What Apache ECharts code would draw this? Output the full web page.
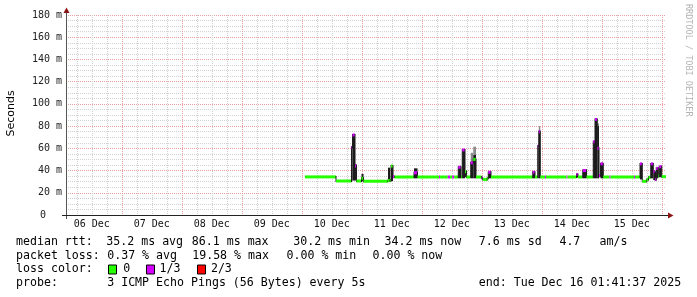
<!DOCTYPE html>
<html><head><meta charset="utf-8">
<script src="https://cdn.jsdelivr.net/npm/echarts@6/dist/echarts.min.js"></script>
<style>html,body{margin:0;padding:0;background:#fff}#c{width:697px;height:297px}</style>
</head><body><div id="c"></div>
<script>
// ---- time axis: hours since 06 Dec 00:00 ----
const windowStartHour = 1 + 41/60 + 37/3600;   // 06 Dec 01:41:37
const windowEndHour = windowStartHour + 240;    // 16 Dec 01:41:37
const dayLabels = ['06 Dec','07 Dec','08 Dec','09 Dec','10 Dec','11 Dec','12 Dec','13 Dec','14 Dec','15 Dec'];
const yTickValues = [0,20,40,60,80,100,120,140,160,180];

// ---- RRD samples (start hour of each step) ----
const sampleHours = [97.3,109.7,115.9,116.3,117.3,117.9,119.9,120.7,130.5,131.3,131.7,132.5,133.1,140.9,142.3,150.9,151.3,154.4,155.3,156.2,157.0,158.6,159.7,160.2,161.3,161.9,163.6,164.6,165.7,168.0,168.4,170.2,170.6,171.7,188.4,189.3,190.4,190.8,191.4,193.3,193.7,201.9,202.3,205.9,206.5,208.4,209.9,212.6,213.3,214.2,214.9,215.5,216.6,219.1,219.5,228.9,229.3,231.3,232.2,234.0,234.7,235.6,236.6,237.3,237.8,238.6,239.0,240.0];
const medianMs = [34.3,30.6,61,72,44,30.6,33,30.4,31,30.8,44,34.5,34.2,38,34.2,34.2,34.2,34.2,34.2,34.2,34.2,43,34.2,58.5,39,34.2,47,50,34.2,33,32,33,38.5,34.2,38.5,34.2,62,75,34.2,34.2,34.2,34.2,34.2,36.5,34.2,40,34.2,66,86,60,35.5,46,34.2,34.2,34.2,34.2,34.2,46,30.3,32,34,46,39,32,42,35,43.5,34.5];
const lossLevel = [0,0,1,1,1,0,0,0,0,0,0,1,0,1,0,1,0,1,0,1,0,1,0,1,0,0,1,0,0,1,0,0,1,0,1,0,1,1,0,1,0,1,0,1,0,1,0,1,1,1,1,1,0,1,0,1,0,1,0,0,0,1,1,1,1,0,1,0];
const pingLoMs = [34.3,30.6,31,31,31,30.6,30.6,30.4,30.5,30.8,30.5,34.5,34.2,33,34.2,34.2,34.2,34.2,34.2,34.2,34.2,33,34.2,33,34,34.2,33,33,34.2,33,32,33,33,34.2,33,34.2,33,33,34.2,34.2,34.2,34.2,34.2,34,34.2,33,34.2,33,33,33,34,33,34.2,34.2,34.2,34.2,34.2,32,30.3,32,34,33,31.5,31,33,34,34,34.5];
const pingHiMs = [34.3,30.6,61,72,46,30.6,37,30.4,42.6,30.8,44.4,34.5,34.2,42,34.2,34.2,34.2,34.2,34.2,34.2,34.2,44,34.2,59,40,34.2,48,54,34.2,33,32,33,39,34.2,39.5,34.2,62,76,34.2,34.2,34.2,34.2,34.2,37,34.2,41,34.2,66,86.4,80,36,47,34.2,34.2,34.2,34.2,34.2,46.5,30.3,32,34,46.5,40,39,42,36,44,34.5];
const pingTopMs = [null,null,null,null,null,null,null,null,null,null,null,null,null,null,null,null,null,null,null,null,null,null,null,null,null,null,56,61.5,null,null,null,null,null,null,null,null,null,80,null,null,null,null,null,null,null,null,null,null,null,82.5,null,null,null,null,null,null,null,null,null,null,null,null,null,null,null,null,null,null];

const lossNames = ['0','1/3','2/3'];
const lossColors = ['#26ff00','#d400ff','#ff0000'];

// derived tick values
const dayBoundaries = [], dayNoons = [], sixHourMarks = [];
dayLabels.forEach((_, i) => { dayNoons.push(i*24+12); });
for (let h = 0; h <= windowEndHour; h += 6) {
  if (h < windowStartHour) continue;
  if (h % 24 === 0) dayBoundaries.push(h); else sixHourMarks.push(h);
}

const rows = sampleHours.map((t, i) => [
  t, i + 1 < sampleHours.length ? sampleHours[i+1] : windowEndHour,
  medianMs[i], lossLevel[i], pingLoMs[i], pingHiMs[i],
  pingTopMs[i] == null ? pingHiMs[i] : pingTopMs[i],
  i > 0 ? medianMs[i-1] : medianMs[i]
]);

function renderItem(params, api) {
  const t0 = api.value(0), t1 = api.value(1), med = api.value(2), ls = api.value(3);
  const lo = api.value(4), hi = api.value(5), top = api.value(6), prev = api.value(7);
  const xa = api.coord([t0, 0])[0], xb = api.coord([t1, 0])[0];
  const w = Math.max(1, xb - xa);
  const c = [];
  if (top > hi) {
    const y1 = api.coord([t0, top])[1], y2 = api.coord([t0, hi])[1];
    c.push({type:'rect', shape:{x:xa, y:y1, width:w, height:y2-y1}, style:{fill:'#8a8a8a'}});
  }
  if (hi > lo) {
    const y1 = api.coord([t0, hi])[1], y2 = api.coord([t0, lo])[1];
    c.push({type:'rect', shape:{x:xa, y:y1, width:w, height:y2-y1}, style:{fill:'#1c1c1c'}});
  }
  if (prev !== med) {
    const y1 = api.coord([t0, prev])[1], y2 = api.coord([t0, med])[1];
    c.push({type:'rect', shape:{x:xa-0.5, y:Math.min(y1,y2)-1, width:1, height:Math.abs(y2-y1)+2}, style:{fill:'#1c1c1c'}});
  }
  const ym = api.coord([t0, med])[1];
  c.push({type:'rect', shape:{x:xa, y:ym-1.5, width:w, height:3}, style:{fill:lossColors[ls]}});
  return {type:'group', children:c};
}

const mono = '"DejaVu Sans Mono", monospace';
const legendFont = '11.6px ' + mono;
function txt(x, y, s, extra) {
  return Object.assign({type:'text', x:x, y:y, style:{text:s, font:legendFont, fill:'#000', align:'left', verticalAlign:'middle', textAlign:'left', textVerticalAlign:'middle'}}, extra||{});
}
const legendItems = [
  txt(16, 241.7, 'median rtt:'), txt(106.3, 241.7, '35.2 ms avg'), txt(191.8, 241.7, '86.1 ms max'),
  txt(293.2, 241.7, '30.2 ms min'), txt(384.5, 241.7, '34.2 ms now'), txt(478.8, 241.7, '7.6 ms sd'),
  txt(559.4, 241.7, '4.7'), txt(599.5, 241.7, 'am/s'),
  txt(16, 255.7, 'packet loss:'), txt(107.2, 255.7, '0.37 % avg'), txt(192.2, 255.7, '19.58 % max'),
  txt(286.5, 255.7, '0.00 % min'), txt(372.5, 255.7, '0.00 % now'),
  txt(16, 269.3, 'loss color:'),
  {type:'rect', shape:{x:108.5, y:265, width:8, height:9}, style:{fill:lossColors[0], stroke:'#000', lineWidth:1}},
  txt(123.2, 269.3, lossNames[0]),
  {type:'rect', shape:{x:146.5, y:265, width:8, height:9}, style:{fill:lossColors[1], stroke:'#000', lineWidth:1}},
  txt(159.5, 269.3, lossNames[1]),
  {type:'rect', shape:{x:197.5, y:265, width:8, height:9}, style:{fill:lossColors[2], stroke:'#000', lineWidth:1}},
  txt(210.9, 269.3, lossNames[2]),
  txt(16, 283.3, 'probe:'), txt(107.2, 283.3, '3 ICMP Echo Pings (56 Bytes) every 5s'),
  txt(478.8, 283.3, 'end: Tue Dec 16 01:41:37 2025')
];

const chart = echarts.init(document.getElementById('c'), null, {renderer:'canvas'});
chart.setOption({
  animation: false,
  backgroundColor: '#fff',
  grid: {left:66, right:31, top:15, bottom:82, containLabel:false},
  xAxis: [{
    type:'value', min:windowStartHour, max:windowEndHour,
    axisLine:{show:true, onZero:false, lineStyle:{color:'#222', width:1}},
    axisTick:{show:false, customValues:dayBoundaries},
    axisLabel:{customValues:dayNoons, margin:4, color:'#111', fontFamily:mono, fontSize:10,
      formatter:(v)=>dayLabels[Math.round((v-12)/24)]},
    splitLine:{show:true, lineStyle:{color:'#e6a0a0', type:[1,1], width:1}}
  },{
    type:'value', min:windowStartHour, max:windowEndHour, position:'bottom',
    axisLine:{show:false}, axisLabel:{show:false},
    axisTick:{show:false, customValues:sixHourMarks},
    splitLine:{show:true, lineStyle:{color:'#d2d2d2', type:[1,1], width:1}}
  }],
  yAxis: {
    type:'value', min:yTickValues[0], max:yTickValues[yTickValues.length-1], interval:20,
    axisLine:{show:true, lineStyle:{color:'#555', width:1}},
    axisTick:{show:false},
    axisLabel:{margin:4, color:'#222', fontFamily:mono, fontSize:10,
      formatter:(v)=> v === 0 ? '{z|0}' : v + ' m',
      rich:{z:{fontFamily:mono, fontSize:10, color:'#222', padding:[0,16,0,0]}}},
    splitLine:{show:true, lineStyle:{color:'#e6a0a0', type:[1,1], width:1}},
    minorTick:{show:false, splitNumber:4},
    minorSplitLine:{show:true, lineStyle:{color:'#d2d2d2', type:[1,1], width:1}}
  },
  series: [{
    type:'custom', renderItem:renderItem, data:rows, xAxisIndex:0, yAxisIndex:0,
    encode:{x:[0,1], y:[2,4,5,6]}, clip:true, z:5
  }],
  graphic: [
    {type:'text', x:11.5, y:113.5, rotation:Math.PI/2, style:{text:'Seconds', font:'11px "DejaVu Sans", sans-serif', fill:'#000', align:'center', verticalAlign:'middle', textAlign:'center', textVerticalAlign:'middle'}},
    {type:'text', x:688, y:4, rotation:-Math.PI/2, style:{text:'RRDTOOL / TOBI OETIKER', font:'8.5px ' + mono, fill:'#b4b4b4', align:'left', verticalAlign:'middle', textAlign:'left', textVerticalAlign:'middle'}},
    {type:'line', shape:{x1:62, y1:215.5, x2:66, y2:215.5}, style:{stroke:'#222', lineWidth:1}},
    {type:'line', shape:{x1:666, y1:215.5, x2:669, y2:215.5}, style:{stroke:'#222', lineWidth:1}},
    {type:'line', shape:{x1:66.5, y1:12, x2:66.5, y2:15}, style:{stroke:'#555', lineWidth:1}},
    {type:'line', shape:{x1:66.5, y1:215, x2:66.5, y2:219}, style:{stroke:'#555', lineWidth:1}},
    {type:'polygon', shape:{points:[[63.5,13],[69.5,13],[66.5,7.5]]}, style:{fill:'#8b1414'}},
    {type:'polygon', shape:{points:[[668,212.5],[668,218.5],[673.5,215.5]]}, style:{fill:'#8b1414'}}
  ].concat(legendItems)
});
</script>
</body></html>
